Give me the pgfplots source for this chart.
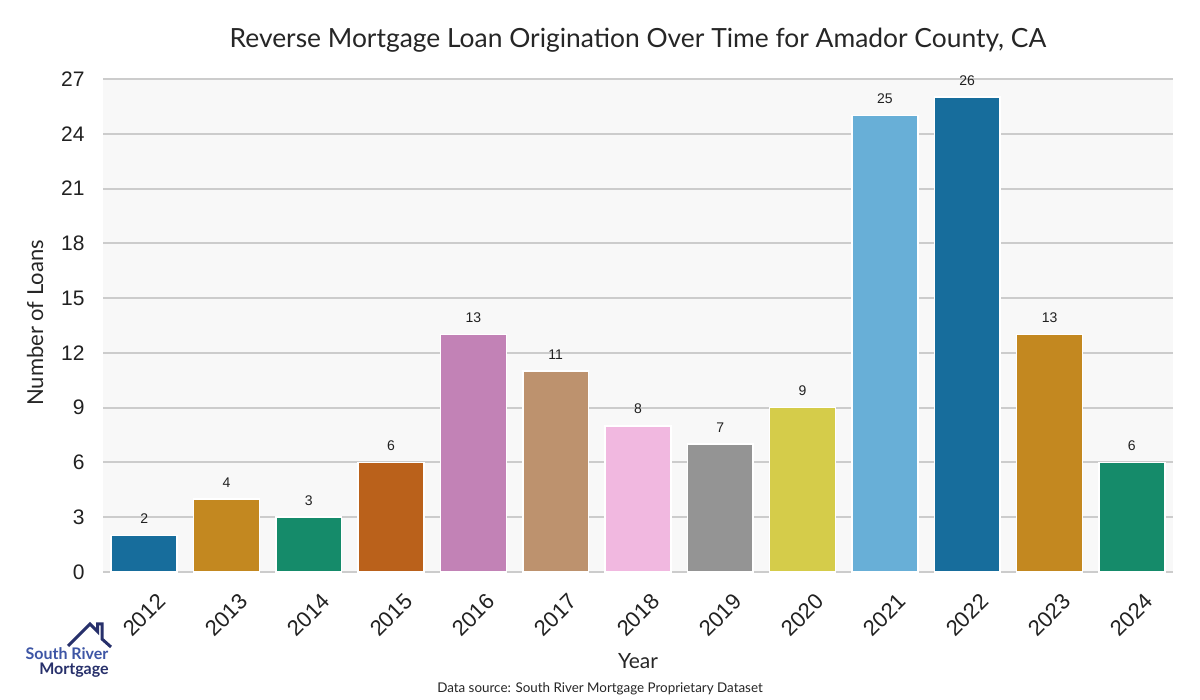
\documentclass[border=0pt]{standalone}
\usepackage{pgfplots}
\pgfplotsset{compat=1.18}
\usepackage{fontspec}
\setmainfont{Liberation Sans}
\newfontfamily\titlefont{Lato}
\definecolor{c1}{HTML}{176D9C}
\definecolor{c2}{HTML}{C38820}
\definecolor{c3}{HTML}{158B6A}
\definecolor{c4}{HTML}{BA611B}
\definecolor{c5}{HTML}{C282B6}
\definecolor{c6}{HTML}{BD926E}
\definecolor{c7}{HTML}{F1B8E0}
\definecolor{c8}{HTML}{949494}
\definecolor{c9}{HTML}{D5CC4A}
\definecolor{c10}{HTML}{68AFD7}
\definecolor{bgc}{HTML}{F8F8F8}
\definecolor{gridc}{HTML}{CCCCCC}
\definecolor{navy}{HTML}{27306B}
\definecolor{srblue}{HTML}{3D55A5}
\begin{document}
\begin{tikzpicture}
\path[use as bounding box, fill=white] (0pt,0pt) rectangle (600pt,350pt);
\begin{axis}[at={(51.5pt,64pt)}, anchor=south west, scale only axis,
  width=535pt, height=246.5pt,
  xmin=-0.5, xmax=12.5, ymin=0, ymax=27,
  ytick={0,3,...,27}, xtick={0,...,12},
  xticklabels={2012,2013,2014,2015,2016,2017,2018,2019,2020,2021,2022,2023,2024},
  axis background/.style={fill=bgc},
  axis line style={draw=none},
  major tick length=0pt,
  ymajorgrids, grid style={line width=1pt, color=gridc},
  tick label style={font=\fontsize{10.5}{12}\selectfont, text=black!87},
  xticklabel style={font=\fontsize{11}{12}\selectfont, anchor=center, yshift=-21.5pt, rotate=45},
  yticklabel style={anchor=east, inner sep=0pt, xshift=-9pt},
  ybar, bar width=0.8, bar shift=0pt,
  nodes near coords,
  nodes near coords style={font=\fontsize{7}{8}\selectfont, anchor=south, inner sep=0pt, yshift=5.5pt, text=black!87},
  /pgf/number format/assume math mode=true,
  clip=false,
  every axis plot/.append style={draw=white, line width=0.8pt}]
\addplot[fill=c1] coordinates {(0,2)};
\addplot[fill=c2] coordinates {(1,4)};
\addplot[fill=c3] coordinates {(2,3)};
\addplot[fill=c4] coordinates {(3,6)};
\addplot[fill=c5] coordinates {(4,13)};
\addplot[fill=c6] coordinates {(5,11)};
\addplot[fill=c7] coordinates {(6,8)};
\addplot[fill=c8] coordinates {(7,7)};
\addplot[fill=c9] coordinates {(8,9)};
\addplot[fill=c10] coordinates {(9,25)};
\addplot[fill=c1] coordinates {(10,26)};
\addplot[fill=c2] coordinates {(11,13)};
\addplot[fill=c3] coordinates {(12,6)};
\end{axis}
\node[font=\titlefont\fontsize{13.2}{15}\selectfont, text=black!85] at (319pt,330pt) {Reverse Mortgage Loan Origination Over Time for Amador County, CA};
\node[font=\titlefont\fontsize{11}{12}\selectfont, text=black!85, rotate=90] at (17.5pt,188.5pt) {Number of Loans};
\node[font=\titlefont\fontsize{10.5}{12}\selectfont, text=black!85] at (319pt,19.5pt) {Year};
\node[font=\titlefont\fontsize{6.7}{8}\selectfont, text=black!85] at (300pt,5.5pt) {Data source: South River Mortgage Proprietary Dataset};
\draw[navy, line width=1.5pt, line join=miter] (34pt,27pt) -- (45pt,38pt) -- (48.8pt,34.2pt) -- (48.8pt,38pt) -- (51pt,38pt) -- (51pt,30.5pt) -- (55.5pt,26.5pt);
\node[font=\titlefont\bfseries\fontsize{8}{9}\selectfont, text=srblue] at (33.5pt,23pt) {South River};
\node[font=\titlefont\bfseries\fontsize{8}{9}\selectfont, text=navy] at (37pt,15pt) {Mortgage};
\end{tikzpicture}
\end{document}
